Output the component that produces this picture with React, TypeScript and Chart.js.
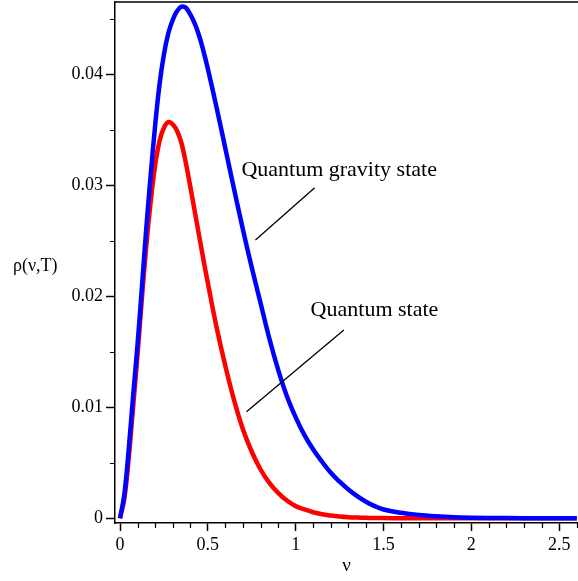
import { useEffect, useRef } from "react";
import { Chart, registerables } from "chart.js";

Chart.register(...registerables);

// frequency grid (ν)
const NU = [
  0, 0.025, 0.05, 0.075, 0.1, 0.125, 0.15, 0.175, 0.2, 0.225, 0.25, 0.275, 0.3,
  0.325, 0.35, 0.375, 0.4, 0.425, 0.45, 0.475, 0.5, 0.55, 0.6, 0.65, 0.7, 0.75, 0.8,
  0.85, 0.9, 0.95, 1.0, 1.05, 1.1, 1.15, 1.2, 1.25, 1.3, 1.35, 1.4, 1.45, 1.5, 1.6,
  1.7, 1.8, 1.9, 2.0, 2.2, 2.4, 2.6,
];

// ρ(ν,T) – quantum gravity state (blue)
const RHO_GRAVITY = [
  0, 0.0022, 0.0063, 0.0111, 0.0157, 0.0209, 0.0262, 0.031, 0.0354, 0.0391, 0.0418,
  0.0437, 0.0449, 0.0457, 0.0461, 0.046, 0.0454, 0.0446, 0.0435, 0.0421, 0.0405,
  0.037, 0.0333, 0.0296, 0.026, 0.0226, 0.0194, 0.0162, 0.0134, 0.011, 0.0091,
  0.0075, 0.0062, 0.0051, 0.0041, 0.0033, 0.0026, 0.002, 0.0015, 0.0011, 0.0008,
  0.0005, 0.0003, 0.00018, 0.0001, 0.00006, 0.00002, 0.00001, 0,
];

// ρ(ν,T) – quantum state (red)
const RHO_QUANTUM = [
  0, 0.0018, 0.0055, 0.0101, 0.0148, 0.0199, 0.0246, 0.0286, 0.0318, 0.034, 0.0352,
  0.0357, 0.0355, 0.0349, 0.0338, 0.032, 0.0299, 0.0277, 0.0255, 0.0233, 0.0212,
  0.0172, 0.0137, 0.0106, 0.008, 0.006, 0.0044, 0.0032, 0.0023, 0.0016, 0.0011,
  0.0008, 0.00055, 0.00037, 0.00025, 0.00016, 0.0001, 0.00007, 0.00005, 0.00003,
  0.00002, 0.00001, 0, 0, 0, 0, 0, 0, 0,
];

const SERIES_NAMES = ["Quantum gravity state", "Quantum state"];
const SERIES_COLORS = ["#0000ff", "#ff0000"];

const X_TICKS = [0, 0.5, 1, 1.5, 2, 2.5];
const X_MINOR = [0.1, 0.2, 0.3, 0.4, 0.6, 0.7, 0.8, 0.9, 1.1, 1.2, 1.3, 1.4, 1.6, 1.7, 1.8, 1.9, 2.1, 2.2, 2.3, 2.4, 2.6];
const Y_TICKS = [0, 0.01, 0.02, 0.03, 0.04];
const Y_MINOR = [0.005, 0.015, 0.025, 0.035, 0.045];

const X_TITLE = "ν";
const Y_TITLE = "ρ(ν,T)";

// annotation labels and pointer lines, in data coordinates
const ANNOTATIONS = [
  { text: SERIES_NAMES[0], at: [0.691, 0.0308], from: [0.771, 0.02508], to: [1.108, 0.02978] },
  { text: SERIES_NAMES[1], at: [1.085, 0.01825], from: [0.72, 0.0096], to: [1.274, 0.01696] },
];

const FONT = "'Liberation Serif', 'Times New Roman', serif";

export default function App() {
  const ref = useRef<HTMLCanvasElement | null>(null);

  useEffect(() => {
    const canvas = ref.current;
    if (!canvas) return;

    const decor = {
      id: "decor",
      afterDraw(chart: any) {
        const { ctx, chartArea, scales } = chart;
        const x = scales.x;
        const y = scales.y;
        ctx.save();
        ctx.strokeStyle = "#000";
        // top frame line
        ctx.lineWidth = 1.5;
        ctx.beginPath();
        ctx.moveTo(chartArea.left, chartArea.top);
        ctx.lineTo(chartArea.right, chartArea.top);
        ctx.stroke();
        // minor ticks
        ctx.lineWidth = 1.2;
        ctx.beginPath();
        X_MINOR.forEach((v) => {
          const px = Math.round(x.getPixelForValue(v)) + 0.5;
          ctx.moveTo(px, chartArea.bottom);
          ctx.lineTo(px, chartArea.bottom + 5);
        });
        Y_MINOR.forEach((v) => {
          const py = Math.round(y.getPixelForValue(v)) + 0.5;
          ctx.moveTo(chartArea.left, py);
          ctx.lineTo(chartArea.left - 5, py);
        });
        ctx.stroke();
        // annotations
        ctx.fillStyle = "#000";
        ctx.font = `22px ${FONT}`;
        ctx.textBaseline = "alphabetic";
        ctx.textAlign = "left";
        ctx.lineWidth = 1.3;
        ANNOTATIONS.forEach((a) => {
          ctx.fillText(a.text, x.getPixelForValue(a.at[0]), y.getPixelForValue(a.at[1]));
          ctx.beginPath();
          ctx.moveTo(x.getPixelForValue(a.from[0]), y.getPixelForValue(a.from[1]));
          ctx.lineTo(x.getPixelForValue(a.to[0]), y.getPixelForValue(a.to[1]));
          ctx.stroke();
        });
        // y-axis title (horizontal)
        ctx.font = `18px ${FONT}`;
        ctx.fillText(Y_TITLE, 13, y.getPixelForValue(0.0223));
        ctx.restore();
      },
    };

    const chart = new Chart(canvas, {
      type: "line",
      data: {
        datasets: [RHO_GRAVITY, RHO_QUANTUM].map((vals, i) => ({
          label: SERIES_NAMES[i],
          data: NU.map((nu, j) => ({ x: nu, y: vals[j] })),
          borderColor: SERIES_COLORS[i],
          backgroundColor: SERIES_COLORS[i],
          borderWidth: 4.5,
          pointRadius: 0,
          fill: false,
          tension: 0.4,
        })),
      },
      options: {
        responsive: false,
        animation: false,
        events: [],
        layout: { padding: { top: 2, left: 0, right: 0, bottom: 0 } },
        plugins: {
          legend: { display: false },
          tooltip: { enabled: false },
          title: { display: false },
        },
        scales: {
          x: {
            type: "linear",
            min: -0.0285,
            max: 2.607,
            afterBuildTicks: (s: any) => {
              s.ticks = X_TICKS.map((value) => ({ value }));
            },
            afterFit: (s: any) => {
              s.height = 58;
              s.paddingLeft = 0;
              s.paddingRight = 0;
            },
            ticks: {
              color: "#000",
              font: { family: FONT, size: 18 },
              padding: 3,
              maxRotation: 0,
              autoSkip: false,
              callback: (v: any) => String(v),
            },
            grid: {
              display: true,
              drawOnChartArea: false,
              drawTicks: true,
              tickLength: 8,
              tickColor: "#000",
              tickWidth: 1.5,
            },
            border: { display: true, color: "#000", width: 1.5 },
            title: {
              display: true,
              text: X_TITLE,
              color: "#000",
              font: { family: FONT, size: 19 },
              padding: { top: 0, bottom: 4 },
            },
          },
          y: {
            type: "linear",
            min: -0.00042,
            max: 0.04652,
            afterBuildTicks: (s: any) => {
              s.ticks = Y_TICKS.map((value) => ({ value }));
            },
            afterFit: (s: any) => {
              s.width = 115;
              s.paddingTop = 0;
              s.paddingBottom = 0;
            },
            ticks: {
              color: "#000",
              font: { family: FONT, size: 18 },
              padding: 3,
              autoSkip: false,
              callback: (v: any) => String(v),
            },
            grid: {
              display: true,
              drawOnChartArea: false,
              drawTicks: true,
              tickLength: 9,
              tickColor: "#000",
              tickWidth: 1.5,
            },
            border: { display: true, color: "#000", width: 1.5 },
          },
        },
      },
      plugins: [decor],
    });

    return () => chart.destroy();
  }, []);

  return (
    <div style={{ position: "fixed", left: 0, top: 0, width: 578, height: 581, background: "#fff" }}>
      <canvas ref={ref} width={578} height={581} style={{ width: 578, height: 581, display: "block" }} />
    </div>
  );
}
